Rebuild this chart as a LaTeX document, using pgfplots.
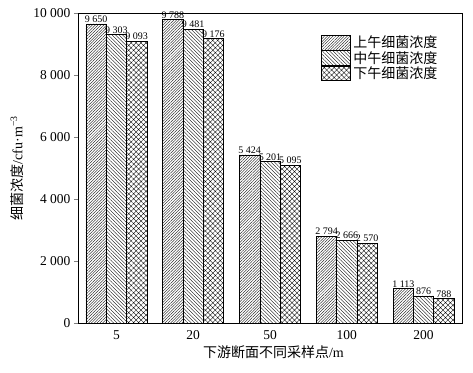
\documentclass[border=0pt]{standalone}
\usepackage{fontspec}
\setmainfont{Liberation Serif}
\newfontfamily\cjk{Noto Sans CJK SC}
\usepackage{pgfplots}
\pgfplotsset{compat=1.18}
\usetikzlibrary{patterns.meta}
\begin{document}
\begin{tikzpicture}
\useasboundingbox (-78pt,-49pt) rectangle (395pt,323pt);
\begin{axis}[
  scale only axis, width=384pt, height=310pt,
  xmin=-0.5, xmax=4.5, ymin=0, ymax=10000,
  ybar=0pt, bar width=0.264,
  xtick={0,1,2,3,4}, xticklabels={5,20,50,100,200},
  ytick={0,2000,4000,6000,8000,10000},
  scaled y ticks=false,
  tick align=outside, ytick pos=left, xtick style={draw=none},
  major tick length=4pt,
  axis line style={line width=0.8pt},
  /pgf/number format/assume math mode=true,
  /pgf/number format/1000 sep={\ },
  ticklabel style={font=\fontsize{13.5}{14}\selectfont},
  xlabel={\cjk 下游断面不同采样点\rmfamily/m},
  ylabel={\cjk 细菌浓度\rmfamily/cfu·m\textsuperscript{−3}},
  label style={font=\fontsize{14}{15}\selectfont},
  xlabel style={at={(axis description cs:0.509,-0.094)},anchor=center},
  ylabel style={at={(axis description cs:-0.159,0.5)},anchor=center},
  nodes near coords,
  every node near coord/.append style={font=\fontsize{10}{11}\selectfont, inner sep=1pt},
  legend style={draw=none, fill=none, at={(0.633,0.929)}, anchor=north west,
    font=\cjk\fontsize{14}{15}\selectfont, row sep=0pt, inner sep=0pt,
    nodes={inner sep=0.6pt},
    /tikz/every odd column/.style={column sep=2pt}},
  legend image code/.code={\draw[#1,line width=0.6pt] (0pt,-7.3pt) rectangle (29pt,7.3pt);},
]
\addplot[draw=black, line width=0.6pt, fill=white, postaction={pattern={Lines[angle=45,distance=2pt,line width=0.35pt]}}]
  coordinates {(0,9650) (1,9788) (2,5424) (3,2794) (4,1113)};
\addplot[draw=black, line width=0.6pt, fill=white, postaction={pattern={Lines[angle=-45,distance=2.5pt,line width=0.35pt]}}]
  coordinates {(0,9303) (1,9481) (2,5201) (3,2666) (4,876)};
\addplot[draw=black, line width=0.6pt, fill=white, postaction={pattern={Hatch[angle=45,distance=3.5pt,line width=0.35pt]}}]
  coordinates {(0,9093) (1,9176) (2,5095) (3,2570) (4,788)};
\legend{上午细菌浓度,中午细菌浓度,下午细菌浓度}
\end{axis}
\end{tikzpicture}
\end{document}
